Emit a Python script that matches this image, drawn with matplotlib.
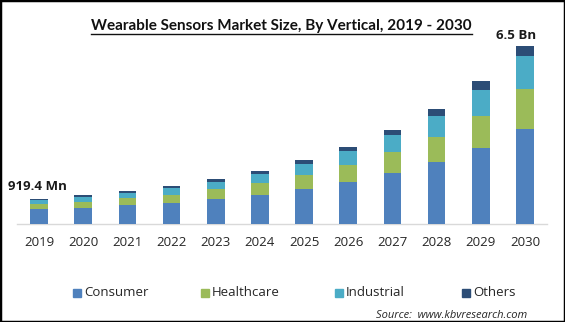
import matplotlib
matplotlib.use("Agg")
import matplotlib.pyplot as plt
from matplotlib.patches import Rectangle
from matplotlib.lines import Line2D

years = ["2019", "2020", "2021", "2022", "2023", "2024",
         "2025", "2026", "2027", "2028", "2029", "2030"]
consumer = [0.530, 0.582, 0.681, 0.764, 0.910, 1.067, 1.285, 1.529, 1.856, 2.246, 2.792, 3.483]
healthcare = [0.207, 0.207, 0.266, 0.302, 0.353, 0.437, 0.491, 0.619, 0.775, 0.946, 1.165, 1.445]
industrial = [0.135, 0.204, 0.193, 0.244, 0.277, 0.328, 0.419, 0.510, 0.619, 0.764, 0.946, 1.223]
others = [0.0474, 0.062, 0.062, 0.084, 0.098, 0.098, 0.138, 0.157, 0.171, 0.255, 0.328, 0.349]
series_names = ["Consumer", "Healthcare", "Industrial", "Others"]
series_colors = ["#4F81BD", "#9BBB59", "#4BACC6", "#2C4D76"]
first_label = "919.4 Mn"
last_label = "6.5 Bn"
title = "Wearable Sensors Market Size, By Vertical, 2019 - 2030"
source = "Source:  www.kbvresearch.com"

W, H = 565, 322
fig = plt.figure(figsize=(W / 100, H / 100), dpi=100)
fig.patch.set_facecolor("white")

# axes placement in pixels: left 17, right 547, baseline 224, top 40
ax = fig.add_axes([17 / W, (H - 224) / H, 530 / W, 184 / H])
ax.set_facecolor("white")

font = "Open Sans"
x = list(range(len(years)))
bottom = [0.0] * len(years)
for vals, name, col in zip([consumer, healthcare, industrial, others], series_names, series_colors):
    ax.bar(x, vals, width=0.4, bottom=bottom, color=col, label=name, zorder=3)
    bottom = [b + v for b, v in zip(bottom, vals)]

ax.set_xlim(-0.5, len(years) - 0.5)
ax.set_ylim(0, 6.5 * 184 / 178)
for s in ["top", "left", "right"]:
    ax.spines[s].set_visible(False)
ax.spines["bottom"].set_color("#D9D9D9")
ax.spines["bottom"].set_linewidth(1.0)
ax.set_yticks([])
ax.set_xticks(x)
ax.set_xticklabels(years, fontsize=9.5, family=font, color="#262626")
ax.tick_params(axis="x", length=0, pad=9)

# value labels for first and last year
ax.text(x[0] - 0.03, bottom[0] + 0.44, first_label, ha="center", va="center",
        fontsize=9.5, fontweight="bold", family=font, color="#1a1a1a")
ax.text(x[-1] - 0.2, bottom[-1] + 0.37, last_label, ha="center", va="center",
        fontsize=9.5, fontweight="bold", family=font, color="#1a1a1a")

# title with underline
t = fig.text(281.5 / W, (H - 26) / H, title, ha="center", va="center",
             fontsize=11, fontweight="bold", family="Lato", color="#111111")

# legend
leg_x = [73, 201, 335, 462]
for hx, name, col in zip(leg_x, series_names, series_colors):
    fig.patches.append(Rectangle((hx / W, (H - 297) / H), 8 / W, 8 / H,
                                 transform=fig.transFigure, color=col, figure=fig))
    fig.text((hx + 11) / W, (H - 293) / H, name, ha="left", va="center",
             fontsize=9.5, family=font, color="#262626")

fig.text(527 / W, (H - 315) / H, source, ha="right", va="center",
         fontsize=8, style="italic", family=font, color="#262626")

# outer frame
fig.patches.append(Rectangle((0, 0), 1, 1, transform=fig.transFigure,
                             fill=False, edgecolor="black", linewidth=2.5, figure=fig))

fig.canvas.draw()
bb = t.get_window_extent(renderer=fig.canvas.get_renderer())
uy = (H - 33.5) / H
fig.lines.append(Line2D([bb.x0 / W, bb.x1 / W], [uy, uy], transform=fig.transFigure,
                        color="#111111", linewidth=1.0, figure=fig))

fig.savefig("out.png", dpi=100, facecolor="white")
